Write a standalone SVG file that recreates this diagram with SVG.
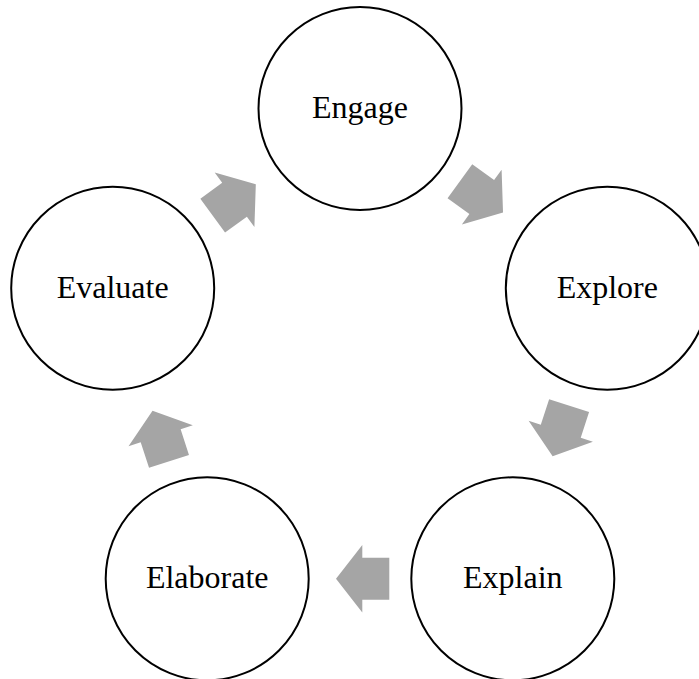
<svg xmlns="http://www.w3.org/2000/svg" xmlns:xlink="http://www.w3.org/1999/xlink" width="699" height="679" viewBox="0 0 699 679">
  <style>
    .node circle { fill: #FFFFFF; stroke: #000000; stroke-width: 2; }
    .node text { font-family: "Liberation Serif", "Times New Roman", serif; font-size: 32px; fill: #000000; text-anchor: middle; }
    .arrow { fill: #A5A5A5; stroke: none; }
  </style>
  <defs>
    <polygon id="cyc-arrow" points="-29.3,-21 -2.3,-21 -2.3,-33.8 24,0 -2.3,33.8 -2.3,21 -29.3,21"/>
  </defs>
  <rect width="699" height="679" fill="#FFFFFF"/>
  <g id="connectors">
    <use xlink:href="#cyc-arrow" href="#cyc-arrow" class="arrow" transform="translate(483.6,198.4) rotate(36)"/>
    <use xlink:href="#cyc-arrow" href="#cyc-arrow" class="arrow" transform="translate(560.05,433.5) rotate(108)"/>
    <use xlink:href="#cyc-arrow" href="#cyc-arrow" class="arrow" transform="translate(360,578.8) rotate(180)"/>
    <use xlink:href="#cyc-arrow" href="#cyc-arrow" class="arrow" transform="translate(159.95,433.5) rotate(252)"/>
    <use xlink:href="#cyc-arrow" href="#cyc-arrow" class="arrow" transform="translate(236.4,198.4) rotate(324)"/>
  </g>
  <g id="engage" class="node">
    <circle cx="360" cy="108.5" r="101.5"/>
    <text x="360" y="118">Engage</text>
  </g>
  <g id="explore" class="node">
    <circle cx="607.3" cy="288.2" r="101.5"/>
    <text x="607.3" y="297.5">Explore</text>
  </g>
  <g id="explain" class="node">
    <circle cx="512.8" cy="578.8" r="101.5"/>
    <text x="512.8" y="588">Explain</text>
  </g>
  <g id="elaborate" class="node">
    <circle cx="207.2" cy="578.8" r="101.5"/>
    <text x="207.2" y="588">Elaborate</text>
  </g>
  <g id="evaluate" class="node">
    <circle cx="112.7" cy="288.2" r="101.5"/>
    <text x="112.7" y="297.5">Evaluate</text>
  </g>
</svg>
